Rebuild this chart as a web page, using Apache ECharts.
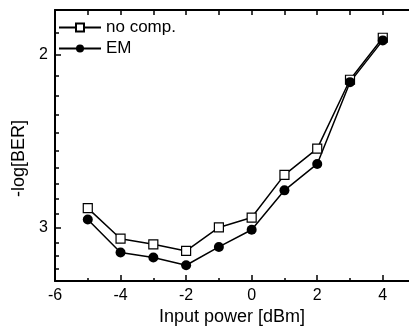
<!DOCTYPE html>
<html>
<head>
<meta charset="utf-8">
<script src="https://cdn.jsdelivr.net/npm/echarts@6/dist/echarts.min.js"></script>
<style>
  html, body { margin: 0; padding: 0; background: #fff; }
  #ber-chart { width: 409px; height: 331px; }
</style>
</head>
<body>
<div id="ber-chart"></div>
<script>
  // input power [dBm]
  const power = [-5, -4, -3, -2, -1, 0, 1, 2, 3, 4];
  // -log[BER]
  const noComp = [2.865, 3.078, 3.119, 3.168, 2.998, 2.929, 2.650, 2.492, 2.120, 1.921];
  const em = [2.943, 3.180, 3.217, 3.276, 3.138, 3.014, 2.748, 2.583, 2.132, 1.933];

  const xMajorTicks = [-6, -4, -2, 0, 2, 4];
  const xMinorTicks = [-5, -3, -1, 1, 3];
  const xTopTicks = [-6, -5, -4, -3, -2, -1, 0, 1, 2, 3, 4];
  const yMajorTicks = [2, 3];
  const yMinorTicks = [1.9, 2.1, 2.2, 2.3, 2.4, 2.5, 2.6, 2.7, 2.8, 2.9, 3.1, 3.2, 3.3];

  const font = 'Liberation Sans, Arial, Helvetica, sans-serif';

  let chart = echarts.init(document.getElementById('ber-chart'));

  function pairs(ys) {
    return power.map((x, i) => [x, ys[i]]);
  }

  const plotBox = { left: 55, right: 0, top: 10, bottom: 49 };

  const xBase = {
    type: 'value',
    min: -6,
    max: 4.8,
    splitLine: { show: false },
    axisLine: { show: false, onZero: false },
    axisLabel: { show: false },
    axisTick: { show: false }
  };
  const yBase = {
    type: 'log',
    logBase: 10,
    min: 1.8,
    max: 3.4,
    inverse: true,
    splitLine: { show: false },
    axisLine: { show: false, onZero: false },
    axisLabel: { show: false },
    axisTick: { show: false }
  };

  const option = {
    animation: false,
    textStyle: { fontFamily: font, color: '#000' },
    // second grid only carries the minor ticks
    grid: [Object.assign({}, plotBox), Object.assign({}, plotBox)],
    legend: {
      orient: 'vertical',
      left: 58,
      top: 19,
      padding: 0,
      itemGap: 4,
      itemWidth: 42,
      itemHeight: 10,
      textStyle: { fontFamily: font, fontSize: 17, color: '#000' },
      data: ['no comp.', 'EM']
    },
    xAxis: [
      Object.assign({}, xBase, {
        gridIndex: 0,
        position: 'bottom',
        name: 'Input power [dBm]',
        nameLocation: 'middle',
        nameGap: 20,
        nameTextStyle: { fontFamily: font, fontSize: 18, color: '#000' },
        axisLine: { show: true, onZero: false, lineStyle: { color: '#000', width: 2 } },
        axisTick: { show: true, inside: true, length: 6, customValues: xMajorTicks, lineStyle: { color: '#000', width: 1.5 } },
        axisLabel: { show: true, margin: 6, fontSize: 16, color: '#000', fontFamily: font, customValues: xMajorTicks }
      }),
      Object.assign({}, xBase, {
        gridIndex: 0,
        position: 'top',
        axisLine: { show: true, onZero: false, lineStyle: { color: '#000', width: 2 } },
        axisTick: { show: true, inside: true, length: 5, customValues: xTopTicks, lineStyle: { color: '#000', width: 1.5 } }
      }),
      Object.assign({}, xBase, {
        gridIndex: 1,
        position: 'bottom',
        axisTick: { show: true, inside: true, length: 4, customValues: xMinorTicks, lineStyle: { color: '#000', width: 1.5 } }
      })
    ],
    yAxis: [
      Object.assign({}, yBase, {
        gridIndex: 0,
        position: 'left',
        name: '-log[BER]',
        nameLocation: 'middle',
        nameGap: 22,
        nameRotate: 90,
        nameTextStyle: { fontFamily: font, fontSize: 18, color: '#000', padding: [0, 26, 0, 0] },
        axisLine: { show: true, onZero: false, lineStyle: { color: '#000', width: 2 } },
        axisTick: { show: true, inside: true, length: 6, customValues: yMajorTicks, lineStyle: { color: '#000', width: 1.5 } },
        axisLabel: { show: true, margin: 7, fontSize: 16, color: '#000', fontFamily: font, customValues: yMajorTicks }
      }),
      Object.assign({}, yBase, {
        gridIndex: 1,
        position: 'left',
        axisTick: { show: true, inside: true, length: 4, customValues: yMinorTicks, lineStyle: { color: '#000', width: 1.5 } }
      })
    ],
    series: [
      {
        name: 'no comp.',
        type: 'line',
        xAxisIndex: 0,
        yAxisIndex: 0,
        symbol: 'rect',
        symbolSize: 9,
        lineStyle: { color: '#000', width: 1.5 },
        itemStyle: { color: '#fff', borderColor: '#000', borderWidth: 1.2 },
        data: pairs(noComp)
      },
      {
        name: 'EM',
        type: 'line',
        xAxisIndex: 0,
        yAxisIndex: 0,
        symbol: 'circle',
        symbolSize: 10,
        lineStyle: { color: '#000', width: 1.5 },
        itemStyle: { color: '#000', borderColor: '#000', borderWidth: 0 },
        data: pairs(em)
      }
    ]
  };
  chart.setOption(option);
  window.addEventListener('resize', function() {
    chart.resize();
  });
</script>
</body>
</html>
